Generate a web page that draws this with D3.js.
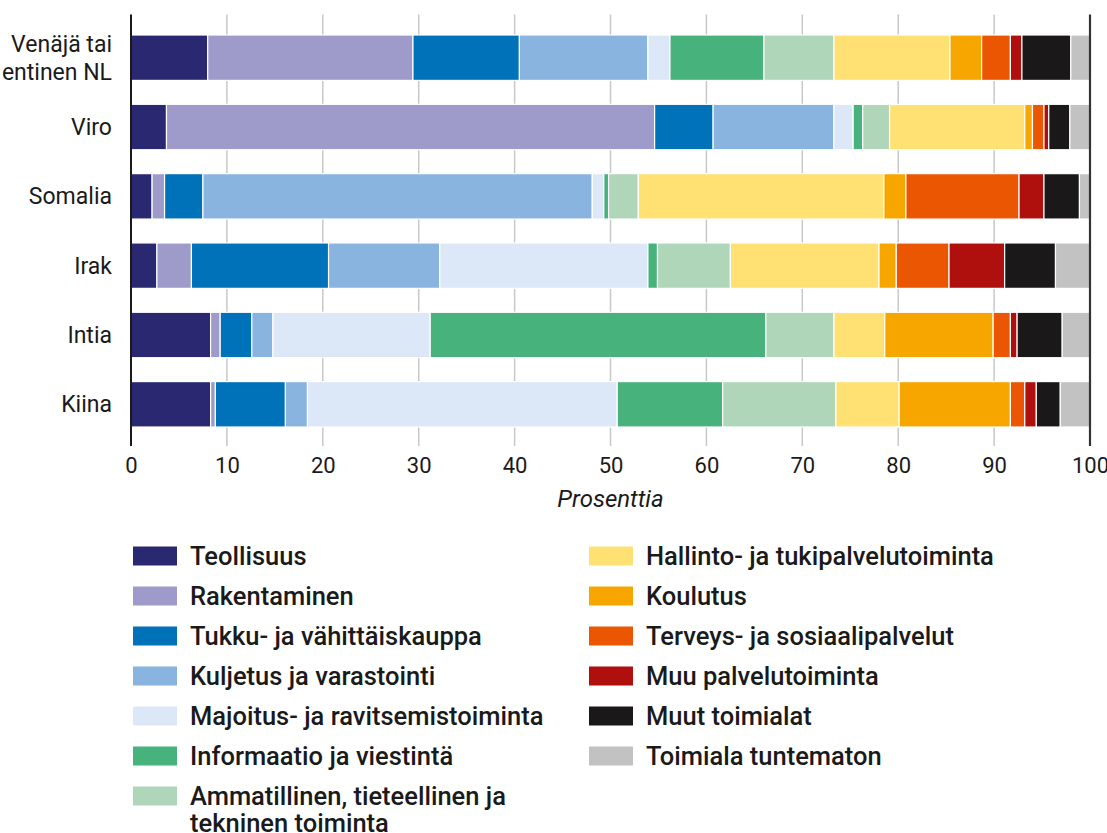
<!DOCTYPE html>
<html>
<head>
<meta charset="utf-8">
<script src="https://cdn.jsdelivr.net/npm/d3@7"></script>
<style>
  html, body { margin: 0; padding: 0; background: #fff; }
  svg { display: block; font-family: Roboto, "Noto Sans", sans-serif; }
</style>
</head>
<body>
<svg id="chart" width="1107" height="833"></svg>
<script>
// Countries of origin (rows, top to bottom)
const countries = ["Venäjä tai entinen NL", "Viro", "Somalia", "Irak", "Intia", "Kiina"];
const countryLines = [["Venäjä tai", "entinen NL"], ["Viro"], ["Somalia"], ["Irak"], ["Intia"], ["Kiina"]];

// Industries (stack order, left to right)
const industries = [
  "Teollisuus",
  "Rakentaminen",
  "Tukku- ja vähittäiskauppa",
  "Kuljetus ja varastointi",
  "Majoitus- ja ravitsemistoiminta",
  "Informaatio ja viestintä",
  "Ammatillinen, tieteellinen ja tekninen toiminta",
  "Hallinto- ja tukipalvelutoiminta",
  "Koulutus",
  "Terveys- ja sosiaalipalvelut",
  "Muu palvelutoiminta",
  "Muut toimialat",
  "Toimiala tuntematon"
];

// Shares (%) per country, in industry order
const venaja  = [8.0, 21.4, 11.1, 13.4, 2.3, 9.8, 7.3, 12.1, 3.3, 3.0, 1.2, 5.1, 2.0];
const viro    = [3.7, 50.9, 6.1, 12.6, 2.0, 1.0, 2.8, 14.1, 0.8, 1.2, 0.5, 2.2, 2.1];
const somalia = [2.2, 1.3, 4.0, 40.6, 1.2, 0.5, 3.1, 25.6, 2.3, 11.8, 2.6, 3.7, 1.1];
const irak    = [2.7, 3.6, 14.3, 11.6, 21.7, 1.0, 7.6, 15.5, 1.8, 5.5, 5.8, 5.3, 3.6];
const intia   = [8.3, 1.0, 3.3, 2.2, 16.4, 35.0, 7.1, 5.3, 11.3, 1.8, 0.7, 4.7, 2.9];
const kiina   = [8.3, 0.5, 7.3, 2.3, 32.3, 11.0, 11.8, 6.6, 11.6, 1.5, 1.2, 2.5, 3.1];
const seriesValues = [venaja, viro, somalia, irak, intia, kiina];

const xTicks = [0, 10, 20, 30, 40, 50, 60, 70, 80, 90, 100];

const colors = [
  "#2a2870", "#9e9aca", "#0072b9", "#8ab4e0", "#dce8f7", "#47b27c", "#afd6b8",
  "#ffe173", "#f7a600", "#eb5602", "#af0f0d", "#1a1818", "#c1c2c1"
];

// Build table rows for the stack layout
const table = countries.map((c, i) => {
  const row = { country: c };
  industries.forEach((k, j) => { row[k] = seriesValues[i][j]; });
  return row;
});

const svg = d3.select("#chart");
const x = d3.scaleLinear().domain([0, 100]).range([131, 1090]);
const y = d3.scaleBand().domain(countries).range([35, 427]).paddingInner(0.345).paddingOuter(0);
const color = d3.scaleOrdinal().domain(industries).range(colors);

const plotTop = 14.5, plotBottom = 446;

// Gridlines
svg.append("g")
  .selectAll("line")
  .data(xTicks.filter(t => t > 0 && t < 100))
  .join("line")
  .attr("x1", d => x(d)).attr("x2", d => x(d))
  .attr("y1", plotTop).attr("y2", plotBottom)
  .attr("stroke", "#c8c8c8").attr("stroke-width", 1.5);

// Stacked bars
const stack = d3.stack().keys(industries)(table);
svg.append("g")
  .selectAll("g")
  .data(stack)
  .join("g")
  .attr("fill", d => color(d.key))
  .selectAll("rect")
  .data(d => d)
  .join("rect")
  .attr("x", d => x(d[0]))
  .attr("width", d => Math.max(0, x(d[1]) - x(d[0])))
  .attr("y", d => y(d.data.country))
  .attr("height", y.bandwidth())
  .attr("stroke", "#ffffff")
  .attr("stroke-width", 1.2);

// Left and right axis lines
svg.append("g")
  .selectAll("line")
  .data([0, 100])
  .join("line")
  .attr("x1", d => x(d)).attr("x2", d => x(d))
  .attr("y1", plotTop).attr("y2", plotBottom)
  .attr("stroke", d => d === 0 ? "#1a1a1a" : "#333333")
  .attr("stroke-width", d => d === 0 ? 2 : 2.2);

// X axis tick labels
const xAxis = d3.axisBottom(x).tickValues(xTicks).tickSize(0).tickPadding(0).tickFormat(d3.format("d"));
const gx = svg.append("g").attr("transform", `translate(0, 458)`).call(xAxis);
gx.select(".domain").remove();
gx.selectAll("text")
  .attr("font-family", "Roboto, sans-serif")
  .attr("font-size", 22)
  .attr("fill", "#1a1a1a")
  .attr("dy", "0.7em");

// X axis title
svg.append("text")
  .attr("x", x(50)).attr("y", 507)
  .attr("text-anchor", "middle")
  .attr("font-size", 24)
  .attr("font-style", "italic")
  .attr("fill", "#1a1a1a")
  .text("Prosenttia");

// Country labels
const labels = svg.append("g")
  .selectAll("text")
  .data(countries)
  .join("text")
  .attr("text-anchor", "end")
  .attr("font-size", 23)
  .attr("fill", "#1a1a1a")
  .attr("x", 112);
labels.each(function(d, i) {
  const lines = countryLines[i];
  const cy = y(d) + y.bandwidth() / 2;
  const lh = 28;
  const t = d3.select(this);
  lines.forEach((ln, k) => {
    t.append("tspan")
      .attr("x", 112)
      .attr("y", cy + (k - (lines.length - 1) / 2) * lh)
      .attr("dy", "0.35em")
      .text(ln);
  });
});

// Legend: two columns
const legendLeft = industries.slice(0, 7);
const legendRight = industries.slice(7);
const legendCols = [
  { items: legendLeft, x: 133 },
  { items: legendRight, x: 589 }
];
const legendLines = {
  "Ammatillinen, tieteellinen ja tekninen toiminta": ["Ammatillinen, tieteellinen ja", "tekninen toiminta"]
};
legendCols.forEach(col => {
  const g = svg.append("g");
  const items = g.selectAll("g")
    .data(col.items)
    .join("g")
    .attr("transform", (d, i) => `translate(${col.x}, ${556 + i * 40})`);
  items.append("rect")
    .attr("x", 0).attr("y", -9.5)
    .attr("width", 44).attr("height", 19)
    .attr("fill", d => color(d));
  items.append("text")
    .attr("font-size", 25.5)
    .attr("font-weight", 500)
    .attr("fill", "#1a1a1a")
    .each(function(d) {
      const lines = legendLines[d] || [d];
      const t = d3.select(this);
      lines.forEach((ln, k) => {
        t.append("tspan")
          .attr("x", 57)
          .attr("y", k * 27)
          .attr("dy", "0.35em")
          .text(ln);
      });
    });
});
</script>
</body>
</html>
